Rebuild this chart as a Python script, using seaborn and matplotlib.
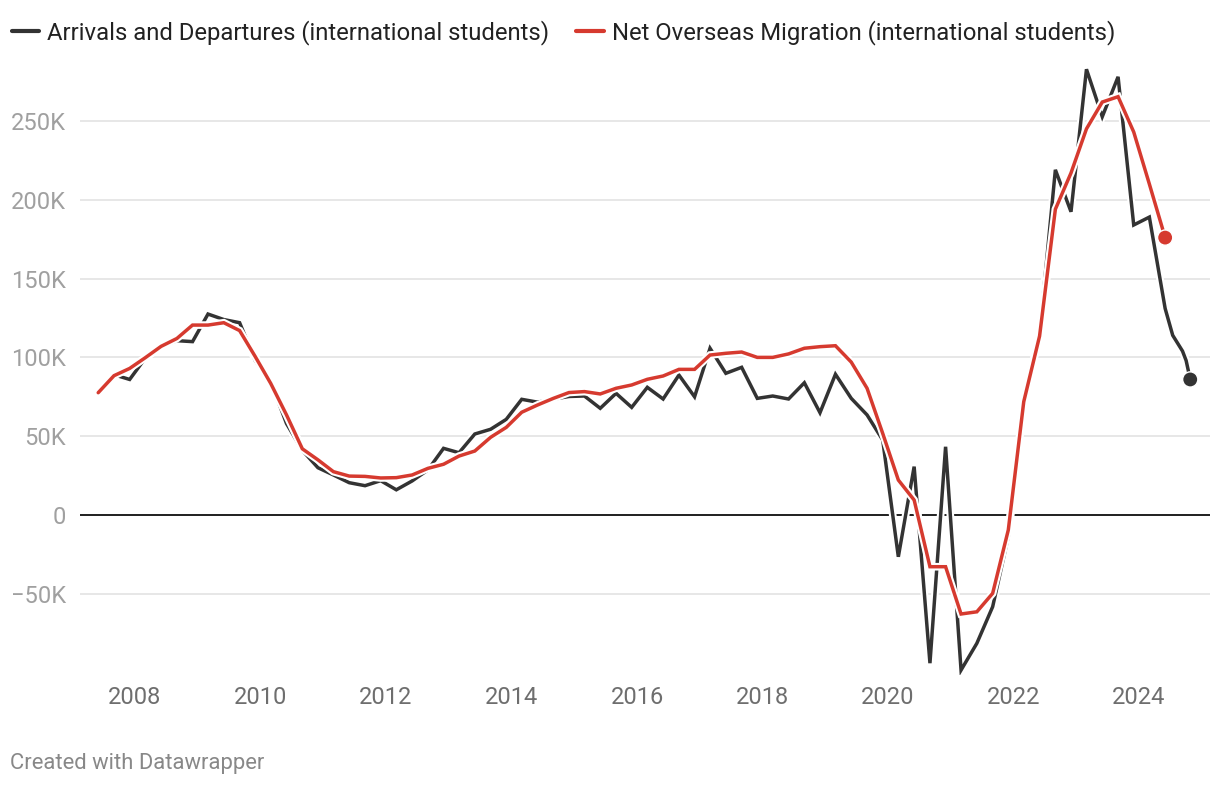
import pandas as pd
import matplotlib
matplotlib.use("Agg")
import matplotlib.pyplot as plt
import matplotlib.dates as mdates
import matplotlib.patheffects as pe
from matplotlib.lines import Line2D
import seaborn as sns

# Quarter dates (x positions of the data points)
quarters = [
    "2007-06-01", "2007-09-01", "2007-12-01",
    "2008-03-01", "2008-06-01", "2008-09-01", "2008-12-01",
    "2009-03-01", "2009-06-01", "2009-09-01", "2009-12-01",
    "2010-03-01", "2010-06-01", "2010-09-01", "2010-12-01",
    "2011-03-01", "2011-06-01", "2011-09-01", "2011-12-01",
    "2012-03-01", "2012-06-01", "2012-09-01", "2012-12-01",
    "2013-03-01", "2013-06-01", "2013-09-01", "2013-12-01",
    "2014-03-01", "2014-06-01", "2014-09-01", "2014-12-01",
    "2015-03-01", "2015-06-01", "2015-09-01", "2015-12-01",
    "2016-03-01", "2016-06-01", "2016-09-01", "2016-12-01",
    "2017-03-01", "2017-06-01", "2017-09-01", "2017-12-01",
    "2018-03-01", "2018-06-01", "2018-09-01", "2018-12-01",
    "2019-03-01", "2019-06-01", "2019-09-01", "2019-12-01",
    "2020-03-01", "2020-06-01", "2020-09-01", "2020-12-01",
    "2021-03-01", "2021-06-01", "2021-09-01", "2021-12-01",
    "2022-03-01", "2022-06-01", "2022-09-01", "2022-12-01",
    "2023-03-01", "2023-06-01", "2023-09-01", "2023-12-01",
    "2024-03-01", "2024-06-01",
]

# Net Overseas Migration (thousands)
nom = [
    77.6, 88.4, 93.0,
    99.8, 107.0, 112.0, 120.5,
    120.5, 122.0, 117.0, 100.5,
    83.5, 63.5, 42.0, 35.0,
    27.5, 24.7, 24.5, 23.5,
    23.7, 25.4, 29.6, 32.2,
    37.4, 40.6, 49.3, 55.6,
    65.2, 69.8, 74.0, 77.7,
    78.3, 76.8, 80.4, 82.5,
    86.1, 88.2, 92.4, 92.4,
    101.5, 102.6, 103.4, 100.0,
    100.0, 102.2, 105.8, 106.8,
    107.4, 97.0, 80.4, 51.8,
    22.2, 9.5, -32.8, -32.8,
    -62.8, -61.4, -49.7, -9.5,
    71.9, 113.5, 194.0, 217.0,
    245.0, 262.0, 265.4, 243.0,
    210.0, 176.0,
]

# Arrivals and Departures dates: quarterly from 2007-09, then a few later readings
arr_dates = quarters[1:] + ["2024-07-15", "2024-09-10", "2024-10-01", "2024-10-25"]

# Arrivals and Departures (thousands)
arrivals = [
    89.0, 86.0,
    99.5, 107.0, 110.6, 110.0,
    127.5, 124.0, 122.0, 98.0,
    84.6, 58.0, 41.0, 30.0,
    25.4, 20.5, 18.6, 21.8,
    16.0, 21.6, 28.6, 42.3,
    39.5, 51.4, 54.4, 60.7,
    73.4, 71.6, 73.5, 75.2,
    75.5, 67.7, 77.2, 68.3,
    81.0, 73.6, 88.8, 75.0,
    105.8, 89.9, 93.7, 74.0,
    75.5, 73.6, 83.9, 64.9,
    89.3, 74.0, 63.5, 47.6,
    -26.5, 30.7, -94.0, 43.3,
    -98.4, -81.4, -58.2, -13.7,
    72.0, 115.0, 219.0, 192.4,
    282.8, 252.7, 278.0, 184.0,
    189.0, 131.0,
    114.0, 104.0, 98.0, 86.0,
]

series_names = [
    "Arrivals and Departures (international students)",
    "Net Overseas Migration (international students)",
]
colors = ["#333333", "#d63a2f"]

df = pd.concat([
    pd.DataFrame({"date": pd.to_datetime(arr_dates), "value": arrivals, "series": series_names[0]}),
    pd.DataFrame({"date": pd.to_datetime(quarters), "value": nom, "series": series_names[1]}),
])

sns.set_theme(style="white")
plt.rcParams["font.family"] = ["Roboto", "DejaVu Sans"]

fig = plt.figure(figsize=(12.2, 7.86), dpi=100)
ax = fig.add_axes([80 / 1220, 111 / 786, 1130 / 1220, 610 / 786])

sns.lineplot(
    data=df, x="date", y="value", hue="series",
    palette=dict(zip(series_names, colors)),
    estimator=None, sort=False, linewidth=2.5, legend=False, ax=ax,
)
for line in ax.get_lines():
    line.set_path_effects([pe.Stroke(linewidth=5.5, foreground="white"), pe.Normal()])
    line.set_solid_joinstyle("miter")

# end dots
ends = df.groupby("series").tail(1)
sns.scatterplot(
    data=ends, x="date", y="value", hue="series",
    palette=dict(zip(series_names, colors)),
    s=120, edgecolor="white", linewidth=1, legend=False, ax=ax, zorder=5,
)

# axes styling
ax.set_ylim(-101.5, 285.5)
ax.set_xlim(pd.Timestamp("2007-02-15"), pd.Timestamp("2025-02-17"))
ax.set_yticks([-50, 0, 50, 100, 150, 200, 250])
ax.set_yticklabels(["−50K", "0", "50K", "100K", "150K", "200K", "250K"])
ax.xaxis.set_major_locator(mdates.YearLocator(2))
ax.xaxis.set_major_formatter(mdates.DateFormatter("%Y"))
ax.set_xlabel("")
ax.set_ylabel("")
for s in ax.spines.values():
    s.set_visible(False)
ax.grid(axis="y", color="#e3e3e3", linewidth=1.2)
ax.grid(axis="x", visible=False)
ax.axhline(0, color="#111111", linewidth=1.3, zorder=1)
ax.tick_params(axis="y", length=0, pad=10, labelsize=17, labelcolor="#a0a0a0")
ax.tick_params(axis="x", length=0, pad=8, labelsize=17, labelcolor="#6e6e6e")

handles = [Line2D([0], [0], color=c, linewidth=3) for c in colors]
fig.legend(
    handles, series_names, loc="upper left", bbox_to_anchor=(0.0016, 0.987),
    borderaxespad=0, ncol=2, frameon=False, fontsize=17.2, handlelength=1.17,
    handletextpad=0.33, columnspacing=1.12, labelcolor="#222222",
)

fig.text(10 / 1220, 1 - 763 / 786, "Created with Datawrapper",
         fontsize=15.8, color="#888888", va="center", ha="left")

fig.savefig("out.png", dpi=100)
